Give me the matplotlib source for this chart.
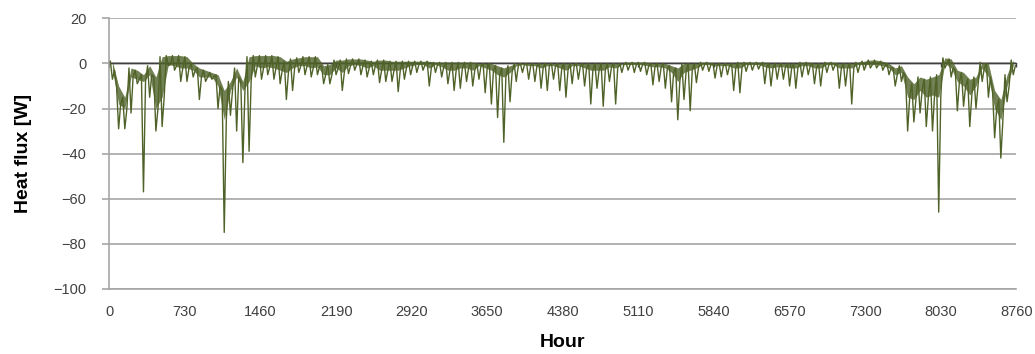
import numpy as np
import matplotlib
matplotlib.use("Agg")
import matplotlib.pyplot as plt

# ---- data, one entry per 60-hour block ----
BIN_HOURS = 60
# highest value in the block
block_max = [
    1, -10, -15, -2, -3, -5, -1, -6, 3, 3.5,
    3.5, 3.5, 3, 0, -2, -3, -4, -5, -12, -8,
    -2, -8, 3, 3.5, 3.5, 3.5, 3.5, 3, 1, 2,
    2.5, 3, 3, 3, -1, -0.5, 1.5, 1.5, 2, 2,
    2, 1.5, 1, 1.5, 1.5, 1, 1, 1, 1, 1,
    1, 1, 0.5, 0.5, 0.5, 0.5, 0.5, 0.5, 0.5, 0,
    0, 0, -1, -2, -1, 0, 0, 0, 0, 0,
    0, 0, 0, 0, 0, 0, 0, 0, 0, 0,
    0, 0, 0, 0.5, 0.5, 0.5, 0.5, 0, 0, 0,
    -1, -2, 0, 0, 0, 0.5, 0.5, 0, 0, 0,
    0, 0.5, 0.5, 0.5, 0.5, 0.5, 0, 0, 0, 0,
    0, 0.5, 0.5, 0, 0, 0.5, 0.5, 0, 0, 0,
    0.5, 1, 1.5, 1.5, 1, 0, -2, -1, -6, -9,
    -6, -7, -6, -5, 2.5, 2, -3, -4, -7, -6,
    0.5, 0, -12, -16, -5, 1.5,
]
# lower edge of the dense band in the block
block_body = [
    -3, -18, -20, -6, -7, -8, -5, -20, -15, -0.5,
    -1, -2, -2, -3, -6, -6, -6, -10, -25, -12,
    -6, -12, -8, -1, -2, -1.5, -2, -3, -4, -2,
    -1, -1, -2, -1.5, -5, -5, -2, -4, -1, -0.5,
    -1, -2, -1, -3, -3, -3, -3, -2, -1, -0.5,
    -0.5, -2, -0.5, -1.5, -3, -3, -2, -2, -3, -1,
    -2, -3, -5, -6, -4, -1, -0.5, -1, -1, -2,
    -1, -1, -2, -3, -1, -1, -2, -3, -3, -3,
    -1.5, -2, -0.5, -0.5, -0.5, -0.5, -1, -1.5, -1.5, -2,
    -4, -8, -4, -3, -2, -0.5, -0.5, -1, -1, -1,
    -2, -2, -0.5, -0.5, -0.5, -1.5, -2, -1.5, -1.5, -2,
    -2, -1, -1, -2, -2, -0.5, -0.5, -2, -2, -2,
    -0.5, -0.5, -0.5, -0.5, -1, -2, -5, -4, -15, -16,
    -12, -15, -14, -15, 0, -2, -8, -10, -14, -10,
    -2, -6, -20, -25, -10, -1,
]
# lowest value (deepest spike) in the block
block_min = [
    -7, -29, -29, -22, -9, -57, -15, -30, -28, -1,
    -3, -8, -8, -6, -16, -8, -7, -20, -75, -23,
    -30, -44, -39, -6, -7, -5, -7, -9, -16, -12,
    -4, -5, -6, -5, -9, -9, -5, -12, -4.5, -3,
    -5, -6, -5, -8.5, -8, -8, -12.5, -7, -5, -4,
    -3, -10, -4, -6, -9, -12, -11, -8, -10, -7,
    -13, -18, -24, -35, -17, -8, -4, -7, -8, -11,
    -12, -7, -12, -15, -9, -7, -10, -18, -11, -19,
    -8, -18, -4, -3, -4, -3.5, -5, -9.5, -8, -11,
    -17, -25, -16, -21, -8.5, -3, -3.5, -6.5, -6, -5,
    -12, -13, -3.5, -3, -2.5, -9, -10, -7, -7, -10,
    -11, -6, -5, -9, -10, -4, -3, -11, -10, -18,
    -4, -3, -2, -2, -3, -5, -10, -8, -30, -26,
    -22, -28, -30, -66, -2, -6, -21, -19, -28, -20,
    -8, -15, -33, -42, -17, -5,
]
x_ticks = [0, 730, 1460, 2190, 2920, 3650, 4380, 5110, 5840, 6570, 7300, 8030, 8760]
y_ticks = [-100, -80, -60, -40, -20, 0, 20]

# ---- build the trace: max -> min -> band edge within each block ----
hi = np.asarray(block_max, dtype=float)
body = np.asarray(block_body, dtype=float)
lo = np.asarray(block_min, dtype=float)
k = np.arange(len(hi))
start = k * BIN_HOURS
xs = np.column_stack([start + BIN_HOURS / 6, start + BIN_HOURS / 2,
                      start + BIN_HOURS * 5 / 6]).ravel()
ys = np.column_stack([hi, lo, body]).ravel()
xc = start + BIN_HOURS / 2

plt.rcParams['font.family'] = ['Liberation Sans', 'DejaVu Sans']

GRID = '#a6a6a6'
TXT = '#404040'
GREEN = '#4f6228'
fig = plt.figure(figsize=(10.35, 3.54), dpi=100)
ax = fig.add_axes([0.1056, 0.1845, 0.8764, 0.7635])

ax.fill_between(xc, body, hi, color=GREEN, lw=0, alpha=0.8, zorder=3)
ax.plot(xs, ys, color=GREEN, lw=1.0, zorder=3)

ax.set_xlim(0, 8760)
ax.set_ylim(-100, 20)
ax.set_xticks(x_ticks)
ax.set_yticks(y_ticks)
ax.yaxis.grid(True, color=GRID, lw=1.2)
ax.set_axisbelow(True)

for s in ['top', 'right']:
    ax.spines[s].set_visible(False)
ax.spines['left'].set_color(GRID)
ax.spines['left'].set_linewidth(1.2)
ax.spines['bottom'].set_color(GRID)
ax.spines['bottom'].set_linewidth(1.2)

ax.tick_params(axis='y', direction='out', length=5, width=1.2, color=GRID,
               labelcolor=TXT, labelsize=10.5, pad=11.5)
ax.tick_params(axis='x', length=0, labelcolor=TXT, labelsize=10.5, pad=12)

# horizontal (category) axis crossing at zero
ax.axhline(0, color=TXT, lw=1.0, zorder=2)
sec = ax.secondary_xaxis(100 / 120)
sec.set_alignment('bottom')
sec.set_xticks(x_ticks)
sec.tick_params(axis='x', direction='out', length=3, width=1.0, color=TXT,
                labelbottom=False, labeltop=False)
sec.spines['bottom'].set_color(TXT)
sec.spines['bottom'].set_linewidth(1.0)

ax.set_ylabel('Heat flux [W]', fontsize=14, fontweight='bold', color='black')
ax.yaxis.set_label_coords(-0.0856, 0.5)
ax.set_xlabel('Hour', fontsize=14, fontweight='bold', color='black')
ax.xaxis.set_label_coords(0.5, -0.1694)

fig.savefig('out.png', dpi=100, facecolor='white')
